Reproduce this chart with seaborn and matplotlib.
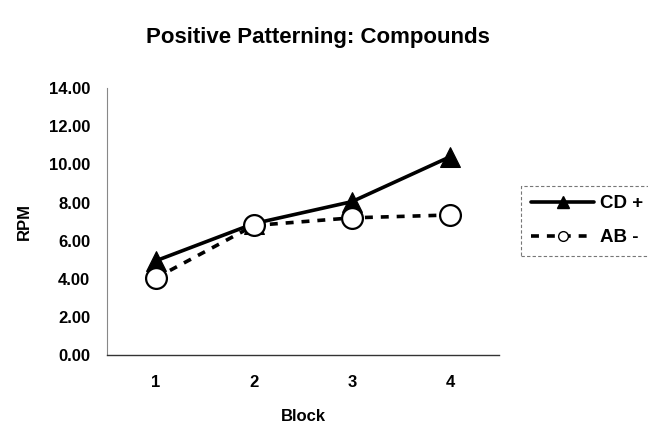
import numpy as np
import pandas as pd
import matplotlib
matplotlib.use('Agg')
import matplotlib.pyplot as plt
import seaborn as sns
from matplotlib.lines import Line2D

blocks = [1, 2, 3, 4]
cd_plus = [4.95, 6.9, 8.05, 10.4]
ab_minus = [4.05, 6.8, 7.2, 7.35]
series_names = ['CD +', 'AB -']

df = pd.DataFrame({
    'Block': blocks * 2,
    'RPM': cd_plus + ab_minus,
    'Series': [series_names[0]] * 4 + [series_names[1]] * 4,
})

sns.set_style('white')
plt.rcParams['font.family'] = ['Liberation Sans', 'DejaVu Sans']
plt.rcParams['font.weight'] = 'bold'
plt.rcParams['text.color'] = 'black'
plt.rcParams['axes.labelcolor'] = 'black'
plt.rcParams['xtick.color'] = 'black'
plt.rcParams['ytick.color'] = 'black'

fig = plt.figure(figsize=(6.48, 4.30), dpi=100)
ax = fig.add_axes([0.165, 0.174, 0.605, 0.621])

cd = df[df['Series'] == series_names[0]]
ab = df[df['Series'] == series_names[1]]
sns.lineplot(data=cd, x='Block', y='RPM', ax=ax, color='black', lw=2.6,
             marker='^', markersize=15, markerfacecolor='black',
             markeredgecolor='black', legend=False)
sns.lineplot(data=ab, x='Block', y='RPM', ax=ax, color='black', lw=2.6,
             linestyle=(0, (2.2, 2.2)), marker='o', markersize=15,
             markerfacecolor='white', markeredgecolor='black',
             markeredgewidth=1.6, legend=False)

ax.set_xlim(0.5, 4.5)
ax.set_ylim(0, 14)
ax.set_yticks(np.arange(0, 15, 2))
ax.set_yticklabels([f'{v:.2f}' for v in np.arange(0, 15, 2)])
ax.set_xticks(blocks)
ax.set_xticks(np.arange(0.5, 4.6, 1.0), minor=True)
ax.tick_params(axis='x', which='major', length=0, pad=14, labelsize=12)
ax.tick_params(axis='x', which='minor', length=4, direction='out', width=0.8, color='#555555')
ax.tick_params(axis='y', length=4, direction='in', width=0.8, labelsize=12, pad=12, color='#555555')
for lab in ax.get_xticklabels() + ax.get_yticklabels():
    lab.set_fontweight('bold')

for s in ['top', 'right']:
    ax.spines[s].set_visible(False)
ax.spines['left'].set_color('#888888')
ax.spines['left'].set_linewidth(0.8)
ax.spines['bottom'].set_color('#333333')
ax.spines['bottom'].set_linewidth(1.0)

ax.set_xlabel('Block', fontsize=12, fontweight='bold', labelpad=14)
ax.set_ylabel('RPM', fontsize=12, fontweight='bold', labelpad=12)

fig.text(0.49, 0.912, 'Positive Patterning: Compounds', ha='center', va='center',
         fontsize=16, fontweight='bold')

handles = [
    Line2D([], [], color='black', lw=2.6, marker='^', markersize=8),
    Line2D([], [], color='black', lw=2.6, linestyle=(0, (2.2, 2.2)), marker='o',
           markersize=7, markerfacecolor='white'),
]
leg = fig.legend(handles, series_names, loc='center left', bbox_to_anchor=(0.79, 0.487),
                 frameon=True, fancybox=False, handlelength=3.4, fontsize=13.5,
                 borderpad=0.5, labelspacing=0.9, handletextpad=0.3)
leg.get_frame().set_edgecolor('#555555')
leg.get_frame().set_linestyle((0, (3, 2)))
leg.get_frame().set_linewidth(0.8)
for t in leg.get_texts():
    t.set_fontweight('bold')

fig.savefig('out.png', dpi=100)
